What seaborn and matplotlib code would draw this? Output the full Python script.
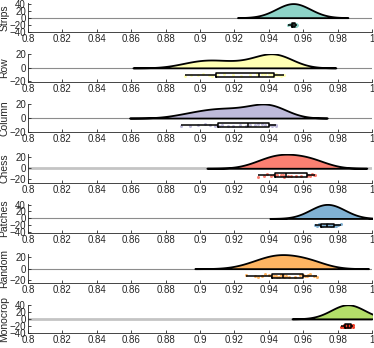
import numpy as np
import pandas as pd
import seaborn as sns
import matplotlib
matplotlib.use("Agg")
import matplotlib.pyplot as plt
from matplotlib.ticker import MultipleLocator, FuncFormatter

# category names, top to bottom
names = ["Strips", "Row", "Column", "Chess", "Patches", "Random", "Monocrop"]

# fill colours of the clouds, and colours of the rain points
cloud_colors = ["#8dd3c7", "#ffffb3", "#bebada", "#fb8072", "#80b1d3", "#fdb462", "#b3de69"]
rain_colors = ["#8dd3c7", "#ffffb3", "#bebada", "#fb8072", "#80b1d3", "#fdb462", "#f0402a"]

strips = [0.9512, 0.9522, 0.9527, 0.9530, 0.9533, 0.9536, 0.9538, 0.9540, 0.9541,
          0.9543, 0.9545, 0.9547, 0.9549, 0.9551, 0.9554, 0.9556, 0.9560, 0.9566]
row = [0.891, 0.895, 0.899, 0.902, 0.905, 0.907, 0.910, 0.914,
       0.919, 0.924, 0.929, 0.933,
       0.936, 0.938, 0.940, 0.941, 0.942, 0.943, 0.944, 0.945, 0.946, 0.947, 0.948, 0.949]
column = [0.889, 0.894, 0.899, 0.903, 0.906, 0.909, 0.911, 0.913, 0.916, 0.919, 0.923, 0.927,
          0.929, 0.932, 0.934, 0.936, 0.938, 0.940, 0.941, 0.942, 0.942, 0.943, 0.944, 0.944]
chess = [0.934, 0.937, 0.939, 0.941, 0.943, 0.944, 0.945, 0.947, 0.948, 0.949,
         0.951, 0.953, 0.956, 0.959, 0.962, 0.963, 0.964, 0.965, 0.966, 0.967]
patches = [0.967, 0.968, 0.969, 0.970, 0.970, 0.971, 0.972, 0.973, 0.974,
           0.974, 0.975, 0.976, 0.977, 0.978, 0.979, 0.979, 0.980, 0.982]
random_ = [0.927, 0.932, 0.934, 0.936, 0.938, 0.940, 0.942, 0.943, 0.944, 0.945, 0.946, 0.947,
           0.948, 0.949, 0.950, 0.952, 0.955, 0.958, 0.960, 0.961, 0.962, 0.963, 0.964, 0.966, 0.968]
monocrop = [0.982, 0.983, 0.984, 0.984, 0.985, 0.985, 0.986, 0.986, 0.986, 0.987,
            0.987, 0.988, 0.988, 0.989, 0.989]

all_data = [strips, row, column, chess, patches, random_, monocrop]

# kernel bandwidth (absolute, in score units)
bandwidth = [0.0098, 0.010, 0.010, 0.010, 0.0088, 0.010, 0.0095]

sns.set_theme(style="ticks")
plt.rcParams["font.family"] = ["Liberation Sans", "DejaVu Sans"]
plt.rcParams["axes.edgecolor"] = "#262626"
plt.rcParams["axes.linewidth"] = 0.6
plt.rcParams["xtick.color"] = "#262626"
plt.rcParams["ytick.color"] = "#262626"

np.random.seed(3)

W, H = 374, 348
fig = plt.figure(figsize=(W / 100, H / 100), dpi=100)

# light/heavy zero lines like the original
zero_style = {"Chess": ("#c4c4c4", 2.0), "Monocrop": ("#c4c4c4", 2.0)}

for i, (name, vals) in enumerate(zip(names, all_data)):
    bottom_px = 32 + 50.2 * i
    ax = fig.add_axes([28 / W, 1 - bottom_px / H, 344 / W, 28.7 / H])

    zc, zw = zero_style.get(name, ("#8c8c8c", 0.8))
    ax.axhline(0, color=zc, lw=zw, zorder=0)

    v = np.asarray(vals)
    factor = bandwidth[i] / np.std(v, ddof=1)
    sns.kdeplot(x=v, ax=ax, fill=True, bw_method=factor, cut=3,
                facecolor=cloud_colors[i], edgecolor="black", alpha=1,
                linewidth=1.3, zorder=2)

    peak = ax.collections[-1].get_paths()[0].vertices[:, 1].max()
    pos = -peak / 2

    df = pd.DataFrame({"score": v, "pos": pos})
    sns.stripplot(data=df, x="score", y="pos", ax=ax, orient="h", native_scale=True,
                  jitter=peak * 0.1, color=rain_colors[i], size=2.2,
                  linewidth=0, zorder=3)
    sns.boxplot(data=df, x="score", y="pos", ax=ax, orient="h", native_scale=True,
                width=peak * 0.27, fill=False, color="black", linewidth=1.1,
                showcaps=False, showfliers=False, zorder=4)

    ax.set_xlim(0.8, 1.0)
    ax.set_ylim(-peak * 1.02, peak * 1.02)
    ax.xaxis.set_major_locator(MultipleLocator(0.02))
    ax.xaxis.set_major_formatter(FuncFormatter(lambda x, p: f"{x:.2f}".rstrip("0").rstrip(".")))
    ax.yaxis.set_major_locator(MultipleLocator(20))
    ax.tick_params(direction="in", length=2.5, width=0.6, labelsize=7, pad=1.5)
    ax.set_xlabel("")
    ax.set_ylabel(name, fontsize=7.5, color="#262626")
    ax.yaxis.set_label_coords(-0.055, 0.5)
    sns.despine(ax=ax)

fig.savefig("out.png", dpi=100)
